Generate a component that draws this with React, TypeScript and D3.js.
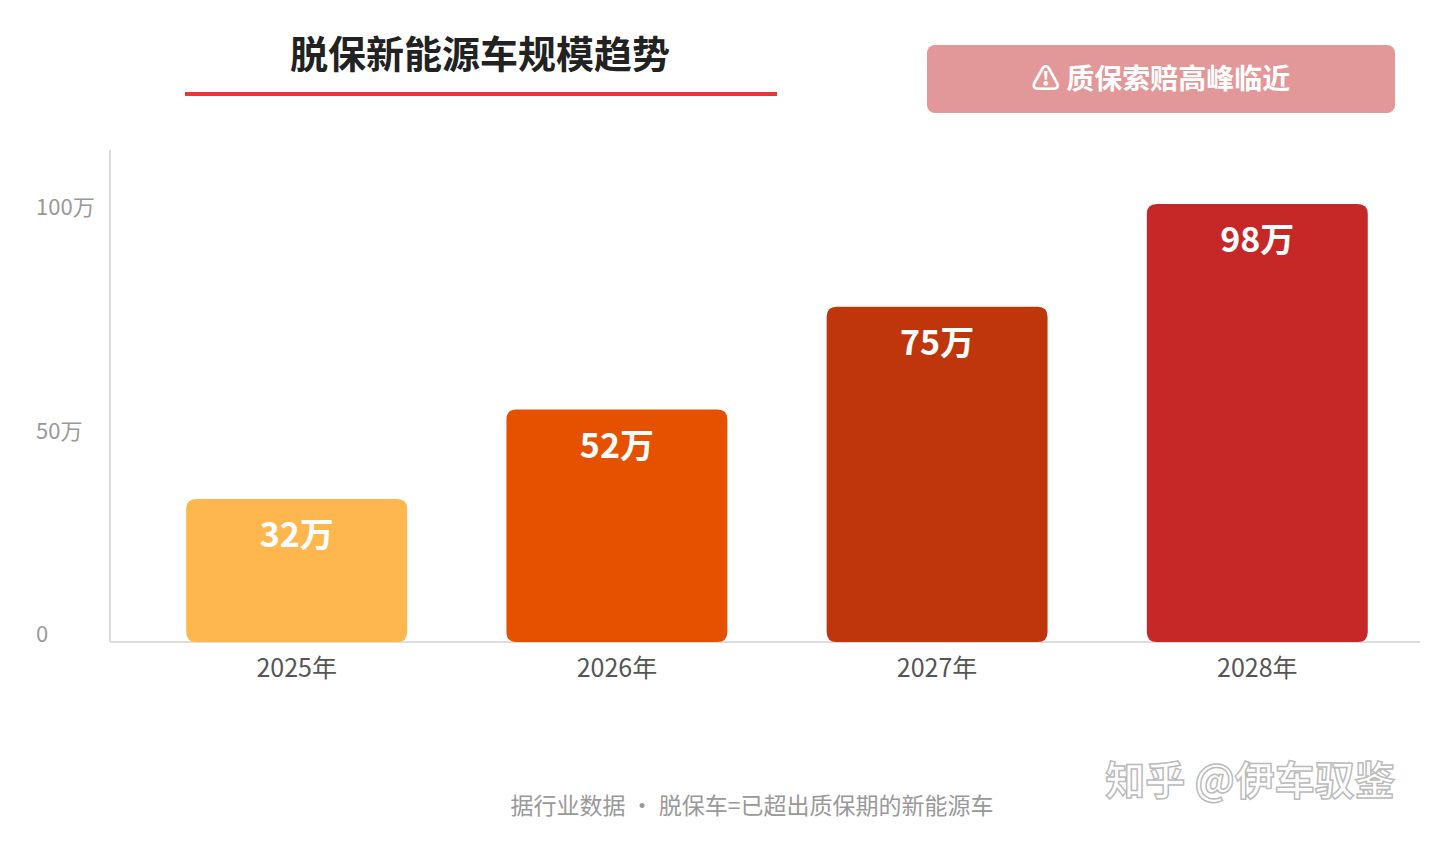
import * as d3 from "d3"

const years = ["2025年", "2026年", "2027年", "2028年"]
const values = [32, 52, 75, 98]
const colors = ["#FDB74E", "#E65100", "#BF360C", "#C62828"]
const yTicks = [0, 50, 100]

const font = "'Noto Sans CJK SC', 'Noto Sans', sans-serif"

export default function App() {
  const x = d3.scaleBand<string>().domain(years).range([135, 1419]).paddingInner(0.31).paddingOuter(0.16)
  const y = d3.scaleLinear().domain([0, 100]).range([642, 195])

  return (
    <svg width={1440} height={842} style={{ position: "absolute", left: 0, top: 0, background: "#fff" }} fontFamily={font}>
      <text x={480} y={68} textAnchor="middle" fontSize={38} fontWeight={700} fill="#222">脱保新能源车规模趋势</text>
      <rect x={185} y={92} width={592} height={4} fill="#E53935" />

      <rect x={927} y={45} width={468} height={68} rx={8} fill="#E29898" />
      <text x={1161} y={89} textAnchor="middle" fontSize={28} fontWeight={700} fill="#fff">⚠ 质保索赔高峰临近</text>

      <line x1={110} x2={110} y1={150} y2={642} stroke="#ddd" strokeWidth={2} />
      <line x1={110} x2={1420} y1={642} y2={642} stroke="#ddd" strokeWidth={2} />

      {yTicks.map((t) => (
        <text key={t} x={36} y={t === 0 ? 642 : y(t) + 20} fontSize={22} fill="#999">
          {t === 0 ? "0" : `${t}万`}
        </text>
      ))}

      {years.map((yr, i) => {
        const bx = x(yr)!
        const w = x.bandwidth()
        const top = y(values[i])
        return (
          <g key={yr}>
            <path
              d={`M${bx},642 V${top + 10} Q${bx},${top} ${bx + 10},${top} H${bx + w - 10} Q${bx + w},${top} ${bx + w},${top + 10} V632 Q${bx + w},642 ${bx + w - 10},642 H${bx + 10} Q${bx},642 ${bx},632 Z`}
              fill={colors[i]}
            />
            <text x={bx + w / 2} y={top + 48} textAnchor="middle" fontSize={34} fontWeight={700} fill="#fff">
              {values[i]}万
            </text>
            <text x={bx + w / 2} y={677} textAnchor="middle" fontSize={25} fill="#555">{yr}</text>
          </g>
        )
      })}

      <text x={752} y={814} textAnchor="middle" fontSize={23} fill="#999">据行业数据 · 脱保车=已超出质保期的新能源车</text>
      <text x={1250} y={795} textAnchor="middle" fontSize={40} fontWeight={700} fill="#fff" stroke="#bbb" strokeWidth={1.5}>知乎 @伊车驭鉴</text>
    </svg>
  )
}
